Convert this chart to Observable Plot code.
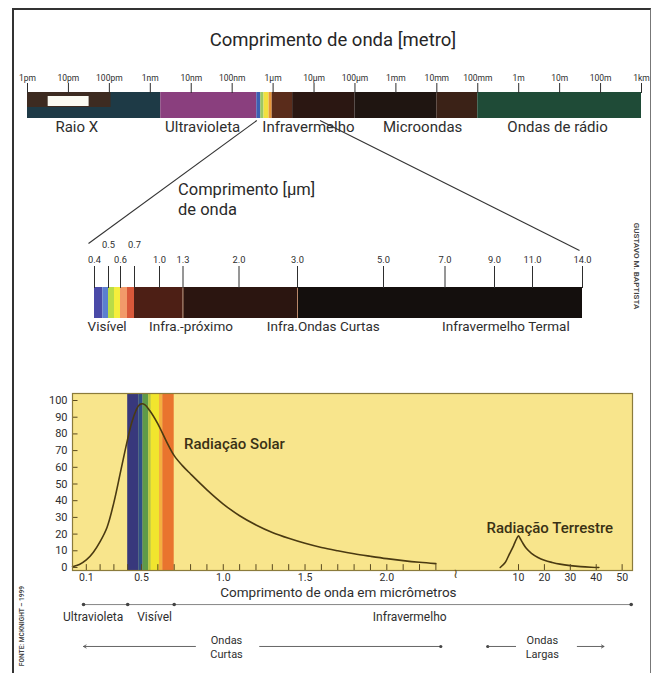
<!DOCTYPE html>
<html>
<head>
<meta charset="utf-8">
<script src="https://cdn.jsdelivr.net/npm/d3@7"></script>
<script src="https://cdn.jsdelivr.net/npm/@observablehq/plot@0.6"></script>
<style>
  body { margin: 0; background: #fff; }
  #page { position: relative; width: 654px; height: 673px; overflow: hidden; background: #fff;
          font-family: Roboto, "Liberation Sans", "DejaVu Sans", sans-serif; color: #2e2e2e; }
  #page svg { position: absolute; left: 0; top: 0; background: transparent !important; overflow: visible; }
  .border { position: absolute; left: 12px; top: 8px; width: 636px; height: 720px;
            border-left: 2px solid #333; border-top: 2px solid #333; border-right: 1.5px solid #777; }
  .t { position: absolute; white-space: nowrap; transform: translate(-50%, -50%); line-height: 1; }
  .l { position: absolute; white-space: nowrap; line-height: 1.15; }
</style>
</head>
<body>
<div id="page"><div class="border"></div></div>
<script>
// ---------------- DATA ----------------
// Electromagnetic spectrum (wavelength in metres)
const emTicks = [1e-12, 1e-11, 1e-10, 1e-9, 1e-8, 1e-7, 1e-6, 1e-5, 1e-4, 1e-3, 1e-2, 1e-1, 1, 10, 100, 1000];
const emTickLabels = ["1pm", "10pm", "100pm", "1nm", "10nm", "100nm", "1μm", "10μm", "100μm", "1mm", "10mm", "100mm", "1m", "10m", "100m", "1km"];
const emSegStart = [1e-12, 1.8e-9, 4e-7, 5e-7, 6e-7, 8e-7, 9.5e-7, 3e-6, 1e-4, 1e-2, 1e-1];
const emSegEnd   = [1.8e-9, 4e-7, 5e-7, 6e-7, 8e-7, 9.5e-7, 3e-6, 1e-4, 1e-2, 1e-1, 1e3];
const emSegColor = ["#1e3a46", "#8a3f7e", "#3d5fb2", "#9cc764", "#f1e03e", "#e8963a", "#5a2c1b", "#2b1712", "#1f1511", "#3b2217", "#1f4b37"];
const xrayDarkSpan = [1e-12, 1.1e-10];
const xrayWhiteSpan = [3.2e-12, 3.2e-11];
const emRegionNames = ["Raio X", "Ultravioleta", "Infravermelho", "Microondas", "Ondas de rádio"];
const emRegionAt = [1.6e-11, 1.9e-8, 7.3e-6, 4.5e-3, 8.9];
const zoomSpan = [4e-7, 1.4e-5];           // metres -> enlarged below
const zoomSpanMicro = [0.4, 14.0];         // same span in micrometres

// Enlarged band (micrometres)
const irTicks = [0.4, 0.6, 1.0, 1.3, 2.0, 3.0, 5.0, 7.0, 9.0, 11.0, 14.0];
const irTicksUpper = [0.5, 0.7];
const irSegStart = [0.4, 0.46, 0.5, 0.55, 0.6, 0.65, 0.7, 1.3, 3.0];
const irSegEnd   = [0.46, 0.5, 0.55, 0.6, 0.65, 0.7, 1.3, 3.0, 14.0];
const irSegColor = ["#4a4aa8", "#5b7fd0", "#b9dc48", "#f5ee3c", "#f29a6a", "#d9583a", "#4d1f15", "#2b1510", "#140f0d"];
const irDividers = [1.3, 3.0];
const irRegionNames = ["Visível", "Infra.-próximo", "Infra.Ondas Curtas", "Infravermelho Termal"];
const irRegionAt = [0.49, 1.4, 3.6, 9.6];

// Radiation curves (wavelength in micrometres, relative intensity)
const solarWl  = [0, 0.05, 0.1, 0.15, 0.2, 0.25, 0.3, 0.35, 0.4, 0.43, 0.46, 0.48, 0.5, 0.52, 0.55, 0.6, 0.65, 0.7, 0.75, 0.8, 0.9, 1.0, 1.1, 1.2, 1.3, 1.4, 1.5, 1.6, 1.7, 1.8, 1.9, 2.0, 2.1, 2.2, 2.3];
const solarVal = [0.5, 1.8, 4.5, 9, 15.5, 24, 39, 58, 77, 87, 94, 97, 98, 97.5, 94, 86, 76, 67, 61, 56, 46.5, 38, 31, 25.5, 21, 17.5, 14.5, 12, 10, 8.2, 6.7, 5.3, 4.1, 3.1, 2.3];
const terrWl  = [7.8, 8.4, 8.9, 9.4, 9.75, 10, 10.6, 11.5, 13, 15, 17.5, 20, 23, 26, 30, 34, 38, 41];
const terrVal = [0, 3, 8, 13, 17, 19, 17.5, 15, 11.5, 8.5, 6, 4.3, 3, 2, 1.1, 0.5, 0.15, 0];

const yTicks = [0, 10, 20, 30, 40, 50, 60, 70, 80, 90, 100];
const xTicks = [0.1, 0.5, 1.0, 1.5, 2.0, 10, 20, 30, 40, 50];
const xMinorTicks = [0.1, 0.2, 0.3, 0.4, 0.5, 0.6, 0.7, 0.8, 0.9, 1.0, 1.1, 1.2, 1.3, 1.4, 1.5, 1.6, 1.7, 1.8, 1.9, 2.0, 2.1, 2.2, 2.3, 10, 20, 30, 40, 50];
const breakAt = 2.42;
const visStart = [0.4, 0.48, 0.51, 0.545, 0.56, 0.61, 0.63];
const visEnd   = [0.48, 0.51, 0.545, 0.56, 0.61, 0.63, 0.7];
const visColor = ["#38387c", "#2f4f86", "#5e9a48", "#b9c83a", "#f1e52e", "#f4b040", "#e9742e"];

const spectrumNames = ["Ultravioleta", "Visível", "Infravermelho"];
const spectrumLabelAt = [0.15, 0.58, 2.14];
const spectrumBounds = [0.08, 0.4, 0.7, 53.5];
const waveNames = ["Ondas\nCurtas", "Ondas\nLargas"];
const waveLabelAt = [1.02, 19.2];

// ---------------- LAYOUT / STYLE ----------------
const W = 654, H = 673;
const FONT = "Roboto, 'Liberation Sans', 'DejaVu Sans', sans-serif";
const INK = "#2e2e2e";
const idx = a => d3.range(a.length);
const page = document.getElementById("page");
const common = {width: W, height: H, style: {background: "transparent", fontFamily: FONT, color: INK, overflow: "visible"}};
const add = el => { page.appendChild(el); return el; };

// ---------- Layer 1: electromagnetic spectrum ----------
const bar1 = {top: 92, bottom: 118, left: 27, right: 641};
const emLabel = new Map(emTicks.map((t, i) => [t, emTickLabels[i]]));
const em = add(Plot.plot({
  ...common,
  marginTop: bar1.top, marginBottom: H - bar1.bottom, marginLeft: bar1.left, marginRight: W - bar1.right,
  x: {type: "log", domain: [1e-12, 1e3], range: [bar1.left, bar1.right]},
  color: {type: "identity"},
  marks: [
    Plot.barX(idx(emSegStart), {x1: i => emSegStart[i], x2: i => emSegEnd[i], fill: i => emSegColor[i]}),
    Plot.barX([0], {x1: () => xrayDarkSpan[0], x2: () => xrayDarkSpan[1], fill: "#3d2b21", insetBottom: 11}),
    Plot.barX([0], {x1: () => xrayWhiteSpan[0], x2: () => xrayWhiteSpan[1], fill: "#fbfbf3", insetTop: 4, insetBottom: 12}),
    Plot.axisX({anchor: "top", ticks: emTicks, tickFormat: d => emLabel.get(d), tickSize: 10, tickPadding: 2, fontSize: 8.5}),
    Plot.text(idx(emRegionNames), {x: i => emRegionAt[i], text: i => emRegionNames[i], frameAnchor: "bottom", dy: 13, fontSize: 15, fill: INK})
  ]
}));

// ---------- Layer 2: enlarged band ----------
const bar2 = {top: 287, bottom: 318, left: 94, right: 582};
const ir = add(Plot.plot({
  ...common,
  marginTop: bar2.top, marginBottom: H - bar2.bottom, marginLeft: bar2.left, marginRight: W - bar2.right,
  x: {type: "linear",
      domain: [0.4, 0.5, 0.6, 0.7, 1.0, 1.3, 2.0, 3.0, 5.0, 7.0, 9.0, 11.0, 14.0],
      range:  [94, 108, 120, 134, 159, 182.5, 238.5, 297, 383, 444.5, 494, 532, 582]},
  color: {type: "identity"},
  marks: [
    Plot.barX(idx(irSegStart), {x1: i => irSegStart[i], x2: i => irSegEnd[i], fill: i => irSegColor[i]}),
    Plot.ruleX(irDividers, {stroke: "#b8876a", strokeWidth: 1}),
    Plot.axisX({anchor: "top", ticks: irTicks, tickSize: 22, tickPadding: 3, tickFormat: d3.format(".1f"), fontSize: 9.3}),
    Plot.axisX({anchor: "top", ticks: irTicksUpper, tickSize: 22, tickPadding: 18, tickFormat: d3.format(".1f"), fontSize: 9.3}),
    Plot.text(idx(irRegionNames), {x: i => irRegionAt[i], text: i => irRegionNames[i], frameAnchor: "bottom", dy: 12, fontSize: 13.5, fill: INK})
  ]
}));

// ---------- Layer 3: radiation chart ----------
const yMin = -1.8, yMax = 104.2;
const rows = {axisTitle: -15, specLine: -22.2, specLabel: -30, waveLine: -47.3};
const curveInk = "#4a3a12";
const chart = add(Plot.plot({
  ...common,
  marginTop: 393, marginBottom: H - 570, marginLeft: 72, marginRight: W - 632,
  x: {type: "linear", domain: [0, 0.5, breakAt, 10, 54], range: [72, 141, 455, 518, 632]},
  y: {type: "linear", domain: [yMin, yMax], range: [570, 393]},
  color: {type: "identity"},
  marks: [
    Plot.frame({fill: "#f8e58c"}),
    Plot.barX(idx(visStart), {x1: i => visStart[i], x2: i => visEnd[i], fill: i => visColor[i]}),
    Plot.line(idx(solarWl), {x: i => solarWl[i], y: i => solarVal[i], curve: "catmull-rom", stroke: curveInk, strokeWidth: 1.6}),
    Plot.line(idx(terrWl), {x: i => terrWl[i], y: i => terrVal[i], curve: "catmull-rom", stroke: curveInk, strokeWidth: 1.6}),
    Plot.ruleX(xMinorTicks, {y1: yMin, y2: yMin + 3.5, stroke: "#5a4a20", strokeWidth: 1}),
    Plot.ruleY(yTicks, {x1: 0, x2: 0.04, stroke: "#5a4a20", strokeWidth: 1}),
    Plot.frame({stroke: "#8b7b3b", strokeWidth: 1.2}),
    Plot.text([breakAt], {x: d => d, y: yMin, text: () => "≀", fontSize: 13, dy: 3, fill: "#5a4a20"}),
    Plot.axisY({ticks: yTicks, tickSize: 0, tickPadding: 5, fontSize: 11}),
    Plot.axisX({ticks: xTicks, tickSize: 0, tickPadding: 3, fontSize: 10.5, tickFormat: d => d < 5 ? d.toFixed(1) : String(d)}),
    Plot.text(["Radiação Solar"], {x: 0.76, y: 74, text: d => d, textAnchor: "start", fontSize: 15, fontWeight: 500, fill: "#3a3115"}),
    Plot.text(["Radiação Terrestre"], {x: 6.15, y: 23.5, text: d => d, textAnchor: "start", fontSize: 15, fontWeight: 500, fill: "#3a3115"}),
    Plot.text(["Comprimento de onda em micrômetros"], {x: 1.704, y: rows.axisTitle, text: d => d, fontSize: 13.5, fill: INK}),
    // spectrum ranges row
    Plot.ruleY([rows.specLine], {x1: spectrumBounds[0], x2: spectrumBounds[spectrumBounds.length - 1], stroke: "#777", strokeWidth: 0.9}),
    Plot.dot(spectrumBounds, {x: d => d, y: rows.specLine, r: 1.8, fill: "#444"}),
    Plot.text(idx(spectrumNames), {x: i => spectrumLabelAt[i], y: rows.specLabel, text: i => spectrumNames[i], fontSize: 12, fill: INK}),
    // short / long waves row
    Plot.arrow([0], {x1: 0.83, x2: 0.08, y1: rows.waveLine, y2: rows.waveLine, stroke: "#555", strokeWidth: 0.9, headLength: 5}),
    Plot.link([0], {x1: 1.22, x2: 2.33, y1: rows.waveLine, y2: rows.waveLine, stroke: "#555", strokeWidth: 0.9}),
    Plot.dot([2.33, 6.3], {x: d => d, y: rows.waveLine, r: 1.6, fill: "#444"}),
    Plot.link([0], {x1: 6.3, x2: 9.7, y1: rows.waveLine, y2: rows.waveLine, stroke: "#555", strokeWidth: 0.9}),
    Plot.arrow([0], {x1: 32.7, x2: 43, y1: rows.waveLine, y2: rows.waveLine, stroke: "#555", strokeWidth: 0.9, headLength: 5}),
    Plot.text(idx(waveNames), {x: i => waveLabelAt[i], y: rows.waveLine, text: i => waveNames[i], fontSize: 11, lineHeight: 1.25, fill: INK})
  ]
}));

// ---------- Connector lines (through both scales) ----------
const xA = em.scale("x"), xB = ir.scale("x");
const connX1 = zoomSpan.map(v => xA.apply(v));
const connX2 = [xB.apply(zoomSpanMicro[0]) - 6, xB.apply(zoomSpanMicro[1]) - 3];
const connY1 = [bar1.bottom + 2, bar1.bottom + 2];
const connY2 = [243, 250];
add(Plot.plot({
  ...common,
  x: {type: "identity", axis: null},
  y: {type: "identity", axis: null},
  marks: [
    Plot.link([0, 1], {x1: i => connX1[i], y1: i => connY1[i], x2: i => connX2[i], y2: i => connY2[i], stroke: "#333", strokeWidth: 1.1})
  ]
}));

// ---------- HTML texts ----------
function txt(cls, text, left, top, css) {
  const d = document.createElement("div");
  d.className = cls; d.textContent = text;
  d.style.left = left + "px"; d.style.top = top + "px";
  Object.assign(d.style, css || {});
  page.appendChild(d);
}
txt("t", "Comprimento de onda [metro]", 333, 40, {fontSize: "18.5px", color: "#262626"});
txt("l", "Comprimento [μm]", 178, 181, {fontSize: "16.5px", color: "#2a2a2a"});
txt("l", "de onda", 178, 201, {fontSize: "16.5px", color: "#2a2a2a"});
txt("t", "GUSTAVO M. BAPTISTA", 636, 266, {fontSize: "8px", fontWeight: "600", color: "#444", transform: "translate(-50%,-50%) rotate(90deg)"});
txt("t", "FONTE: MCKNIGHT – 1999", 22, 626, {fontSize: "6.6px", fontWeight: "600", color: "#444", transform: "translate(-50%,-50%) rotate(-90deg)"});
</script>
</body>
</html>
